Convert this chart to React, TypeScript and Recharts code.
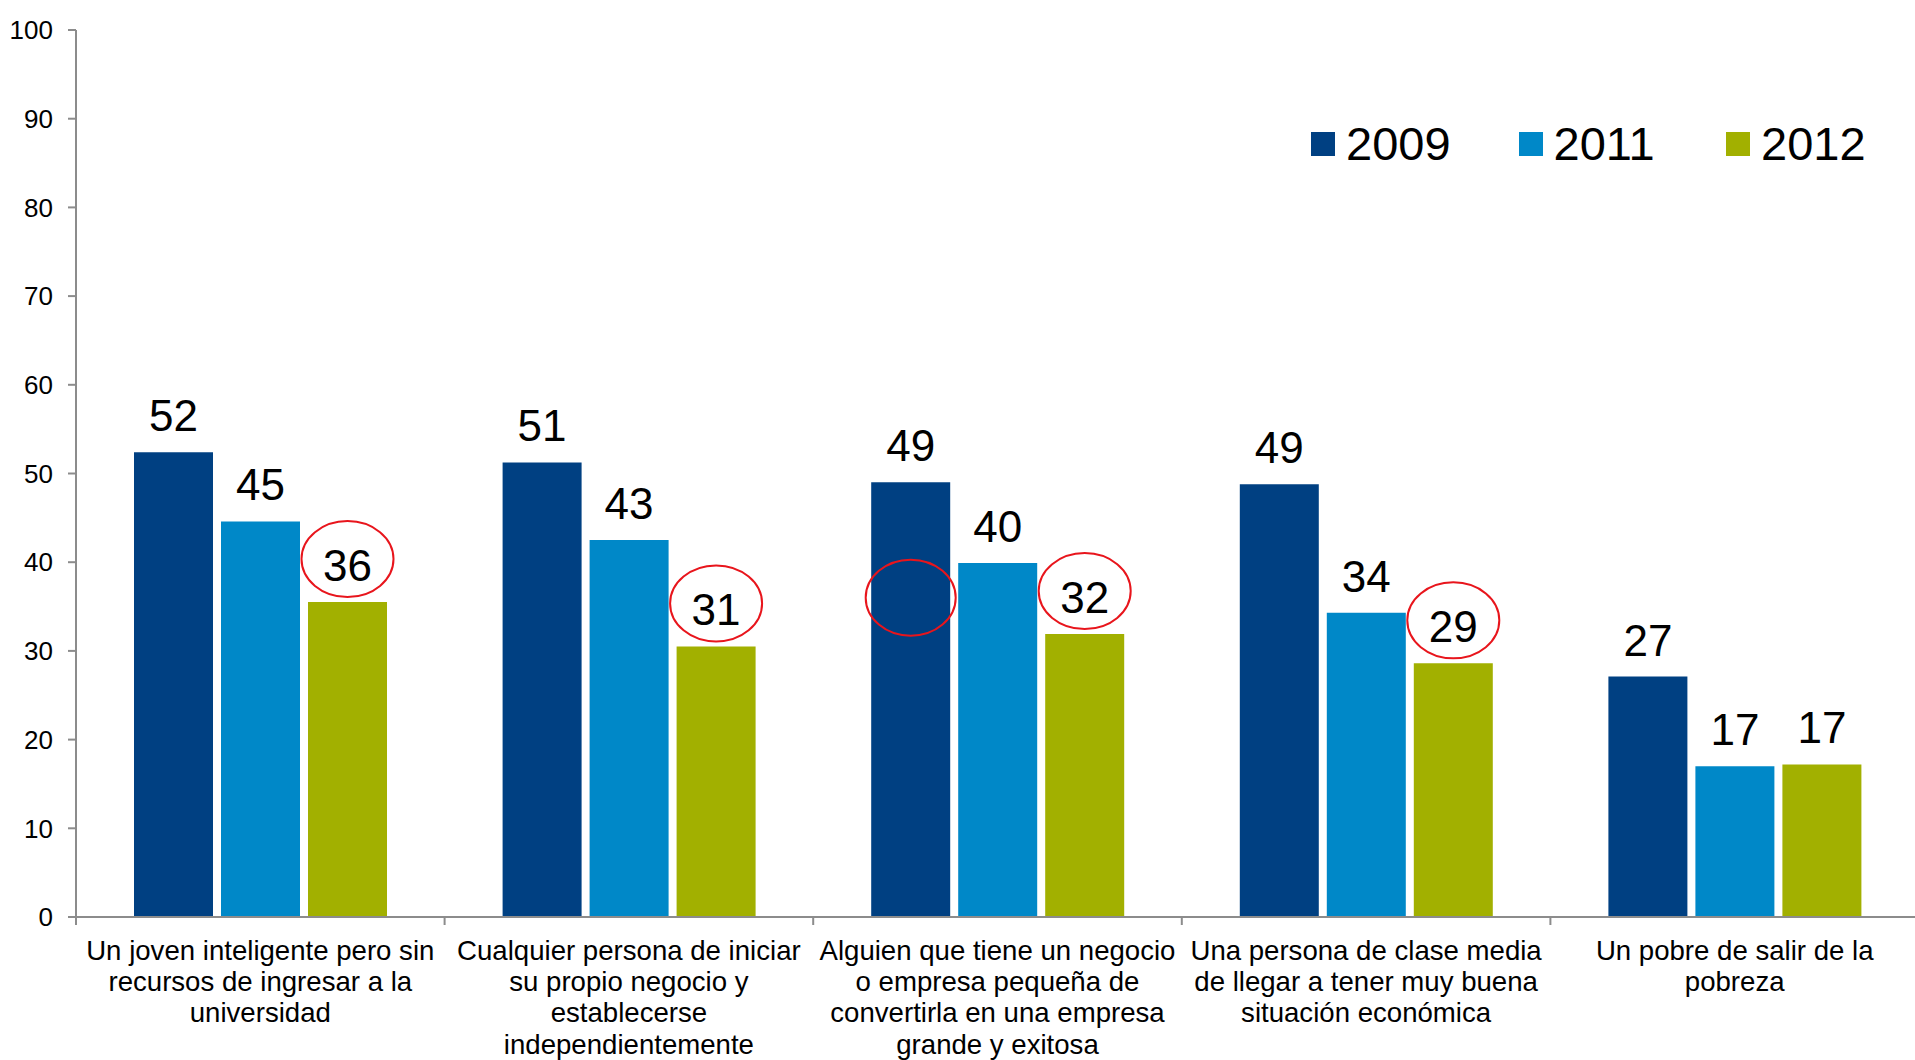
import React from "react";
import {
  BarChart,
  Bar,
  XAxis,
  YAxis,
  Legend,
  LabelList,
} from "recharts";

// category labels, already split in lines as in the source slide
const CATEGORY_LINES: string[][] = [
  ["Un joven inteligente pero sin", "recursos de ingresar a la", "universidad"],
  ["Cualquier persona de iniciar", "su propio negocio y", "establecerse", "independientemente"],
  ["Alguien que tiene un negocio", "o empresa pequeña de", "convertirla en una empresa", "grande y exitosa"],
  ["Una persona de clase media", "de llegar a tener muy buena", "situación económica"],
  ["Un pobre de salir de la", "pobreza"],
];

const VALUES_2009 = [52.4, 51.25, 49.0, 48.8, 27.1];
const VALUES_2011 = [44.6, 42.5, 39.9, 34.3, 17.0];
const VALUES_2012 = [35.5, 30.5, 31.9, 28.6, 17.2];

// which 2012 labels are circled in red
const CIRCLED_2012 = [true, true, true, true, false];
// empty red circle drawn on the 2009 bar of the third group, at this value
const EMPTY_MARK_INDEX = 2;
const EMPTY_MARK_VALUE = 36;

const Y_TICKS = [0, 10, 20, 30, 40, 50, 60, 70, 80, 90, 100];

const SERIES = [
  { key: "y2009", name: "2009", color: "#004082" },
  { key: "y2011", name: "2011", color: "#0088C8" },
  { key: "y2012", name: "2012", color: "#A2B000" },
];

const data = CATEGORY_LINES.map((lines, i) => ({
  name: lines.join(" "),
  y2009: VALUES_2009[i],
  y2011: VALUES_2011[i],
  y2012: VALUES_2012[i],
}));

const FONT = '"Liberation Sans", Arial, sans-serif';
const AXIS_COLOR = "#8c8c8c";
const RED = "#E8151C";

const getBox = (props: any) => {
  const vb = props.viewBox || props;
  return { x: vb.x, y: vb.y, width: vb.width, height: vb.height };
};

const ValueText = ({ cx, y, value }: { cx: number; y: number; value: number }) => (
  <text x={cx} y={y - 21} textAnchor="middle" fontSize={44} fontFamily={FONT} fill="#000">
    {Math.round(value)}
  </text>
);

const label2009 = (props: any) => {
  const { x, y, width, height } = getBox(props);
  const value = Number(props.value);
  const cx = x + width / 2;
  const markY = y + height * (1 - EMPTY_MARK_VALUE / value);
  return (
    <g>
      <ValueText cx={cx} y={y} value={value} />
      {props.index === EMPTY_MARK_INDEX && (
        <ellipse cx={cx} cy={markY} rx={45} ry={38} fill="none" stroke={RED} strokeWidth={2} />
      )}
    </g>
  );
};

const label2011 = (props: any) => {
  const { x, y, width } = getBox(props);
  return <ValueText cx={x + width / 2} y={y} value={Number(props.value)} />;
};

const label2012 = (props: any) => {
  const { x, y, width } = getBox(props);
  const cx = x + width / 2;
  return (
    <g>
      <ValueText cx={cx} y={y} value={Number(props.value)} />
      {CIRCLED_2012[props.index] && (
        <ellipse cx={cx} cy={y - 43} rx={46} ry={38} fill="none" stroke={RED} strokeWidth={2} />
      )}
    </g>
  );
};

const CategoryTick = (props: any) => {
  const { x, y, payload, index } = props;
  const half = payload && payload.offset ? payload.offset : 0;
  const lines = CATEGORY_LINES[index] || [];
  return (
    <g>
      <line x1={x - half} x2={x - half} y1={y} y2={y + 8} stroke={AXIS_COLOR} strokeWidth={2} />
      <text x={x} y={y + 43} textAnchor="middle" fontSize={27.6} fontFamily={FONT} fill="#000">
        {lines.map((line, i) => (
          <tspan key={i} x={x} dy={i === 0 ? 0 : 31.2}>
            {line}
          </tspan>
        ))}
      </text>
    </g>
  );
};

const renderLegend = () => (
  <div style={{ display: "flex", fontFamily: FONT }}>
    {SERIES.map((s) => (
      <div key={s.key} style={{ display: "flex", alignItems: "center", width: 207.5, height: 48 }}>
        <span style={{ width: 24, height: 24, background: s.color, marginRight: 11 }} />
        <span style={{ fontSize: 47, lineHeight: "48px", color: "#000" }}>{s.name}</span>
      </div>
    ))}
  </div>
);

export default function App() {
  return (
    <div style={{ position: "absolute", left: 0, top: 0, width: 1915, height: 1060, background: "#fff", overflow: "hidden" }}>
      <BarChart
        width={1915}
        height={1060}
        data={data}
        margin={{ top: 30, right: -4, left: 0, bottom: 0 }}
        barCategoryGap={58}
        barGap={8}
      >
        <XAxis
          dataKey="name"
          height={143}
          interval={0}
          tickLine={false}
          tickSize={0}
          tickMargin={0}
          axisLine={{ stroke: AXIS_COLOR, strokeWidth: 2 }}
          tick={<CategoryTick />}
        />
        <YAxis
          width={76}
          domain={[0, 100]}
          ticks={Y_TICKS}
          interval={0}
          tickSize={8}
          tickMargin={15}
          axisLine={{ stroke: AXIS_COLOR, strokeWidth: 2 }}
          tickLine={{ stroke: AXIS_COLOR, strokeWidth: 2 }}
          tick={{ fill: "#000", fontSize: 26, fontFamily: FONT }}
        />
        <Legend
          layout="horizontal"
          verticalAlign="middle"
          align="center"
          content={renderLegend}
          wrapperStyle={{ top: 120, left: 1311, width: "auto" }}
        />
        <Bar dataKey="y2009" name="2009" fill={SERIES[0].color} isAnimationActive={false}>
          <LabelList dataKey="y2009" content={label2009} />
        </Bar>
        <Bar dataKey="y2011" name="2011" fill={SERIES[1].color} isAnimationActive={false}>
          <LabelList dataKey="y2011" content={label2011} />
        </Bar>
        <Bar dataKey="y2012" name="2012" fill={SERIES[2].color} isAnimationActive={false}>
          <LabelList dataKey="y2012" content={label2012} />
        </Bar>
      </BarChart>
    </div>
  );
}
